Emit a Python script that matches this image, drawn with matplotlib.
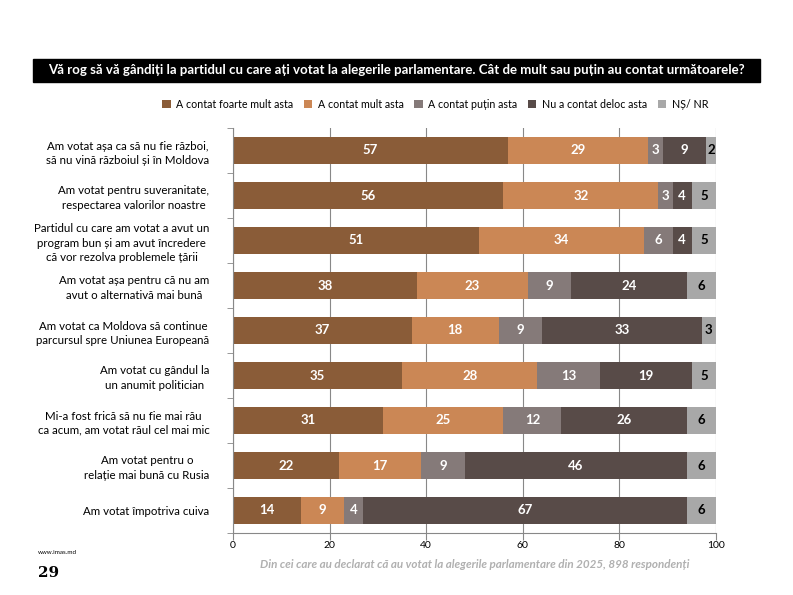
import matplotlib.pyplot as plt
import numpy as np

plt.rcParams['font.family'] = ['Lato', 'DejaVu Sans']

# Date
intrebari = [
    "Am votat așa ca să nu fie război,\nsă nu vină războiul și în Moldova",
    "Am votat pentru suveranitate,\nrespectarea valorilor noastre",
    "Partidul cu care am votat a avut un\nprogram bun și am avut încredere\ncă vor rezolva problemele țării",
    "Am votat așa pentru că nu am\navut o alternativă mai bună",
    "Am votat ca Moldova să continue\nparcursul spre Uniunea Europeană",
    "Am votat cu gândul la\nun anumit politician",
    "Mi-a fost frică să nu fie mai rău\nca acum, am votat răul cel mai mic",
    "Am votat pentru o\nrelație mai bună cu Rusia",
    "Am votat împotriva cuiva",
]
categorii = ["A contat foarte mult asta", "A contat mult asta", "A contat puțin asta",
             "Nu a contat deloc asta", "NȘ/ NR"]
foarte_mult = [57, 56, 51, 38, 37, 35, 31, 22, 14]
mult = [29, 32, 34, 23, 18, 28, 25, 17, 9]
putin = [3, 3, 6, 9, 9, 13, 12, 9, 4]
deloc = [9, 4, 4, 24, 33, 19, 26, 46, 67]
ns_nr = [2, 5, 5, 6, 3, 5, 6, 6, 6]

serii = [foarte_mult, mult, putin, deloc, ns_nr]
culori = ["#8A5C38", "#CB8755", "#857A79", "#584B48", "#A8A8A8"]
culori_text = ["white", "white", "white", "white", "black"]

fig = plt.figure(figsize=(7.93, 5.95), dpi=100)
ax = fig.add_axes([233 / 793, 62 / 595, (716 - 233) / 793, (533 - 128) / 595])

y = np.arange(len(intrebari))
stanga = np.zeros(len(intrebari))
for serie, cul, ct, nume in zip(serii, culori, culori_text, categorii):
    vals = np.array(serie, dtype=float)
    ax.barh(y, vals, left=stanga, height=0.58, color=cul, label=nume, zorder=2)
    for yi, (l, v) in enumerate(zip(stanga, vals)):
        ax.text(l + v / 2, yi, str(int(v)), ha='center', va='center',
                color=ct, fontsize=9.5, fontweight='bold', zorder=3)
    stanga += vals

ax.set_xlim(0, 100)
ax.set_ylim(len(intrebari) - 0.5, -0.5)
ax.set_xticks([0, 20, 40, 60, 80, 100])
ax.tick_params(axis='x', labelsize=7.5, color='#888888', length=5, pad=1)
ax.xaxis.grid(True, color='#888888', linewidth=0.8, zorder=0)
ax.set_axisbelow(True)

# etichete rânduri
ax.set_yticks(y)
ax.set_yticklabels(intrebari, fontsize=8.3, ha='right', multialignment='center',
                   linespacing=1.35)
ax.tick_params(axis='y', length=0, pad=17)
ax.set_yticks(np.arange(len(intrebari) + 1) - 0.5, minor=True)
ax.tick_params(axis='y', which='minor', length=4, color='#888888')

for s in ['top', 'right']:
    ax.spines[s].set_visible(False)
for s in ['left', 'bottom']:
    ax.spines[s].set_color('#888888')

# titlu
fig.patches.append(plt.Rectangle((33 / 793, 1 - 82 / 595), (760 - 33) / 793, 23 / 595,
                                 transform=fig.transFigure, color='black'))
fig.text(396 / 793, 1 - 70.5 / 595,
         "Vă rog să vă gândiți la partidul cu care ați votat la alegerile parlamentare. "
         "Cât de mult sau puțin au contat următoarele?",
         color='white', fontsize=9.5, fontweight='bold', ha='center', va='center')

# legenda
fig.legend(loc='center', bbox_to_anchor=(435 / 793, 1 - 104 / 595), ncol=5,
           frameon=False, fontsize=7.7, handlelength=0.8, handleheight=0.8,
           columnspacing=1.0, handletextpad=0.5)

fig.text(38 / 793, 1 - 553 / 595, "www.imas.md", fontsize=4.5, va='center')
fig.text(38 / 793, 1 - 573 / 595, "29", fontsize=11, fontweight='bold',
         family='DejaVu Serif', va='center')
fig.text(475 / 793, 1 - 564 / 595,
         "Din cei care au declarat că au votat la alegerile parlamentare din 2025, 898 respondenți",
         fontsize=8.4, style='italic', fontweight='bold', color='#B0B0B0',
         ha='center', va='center')

fig.savefig("out.png", dpi=100)
